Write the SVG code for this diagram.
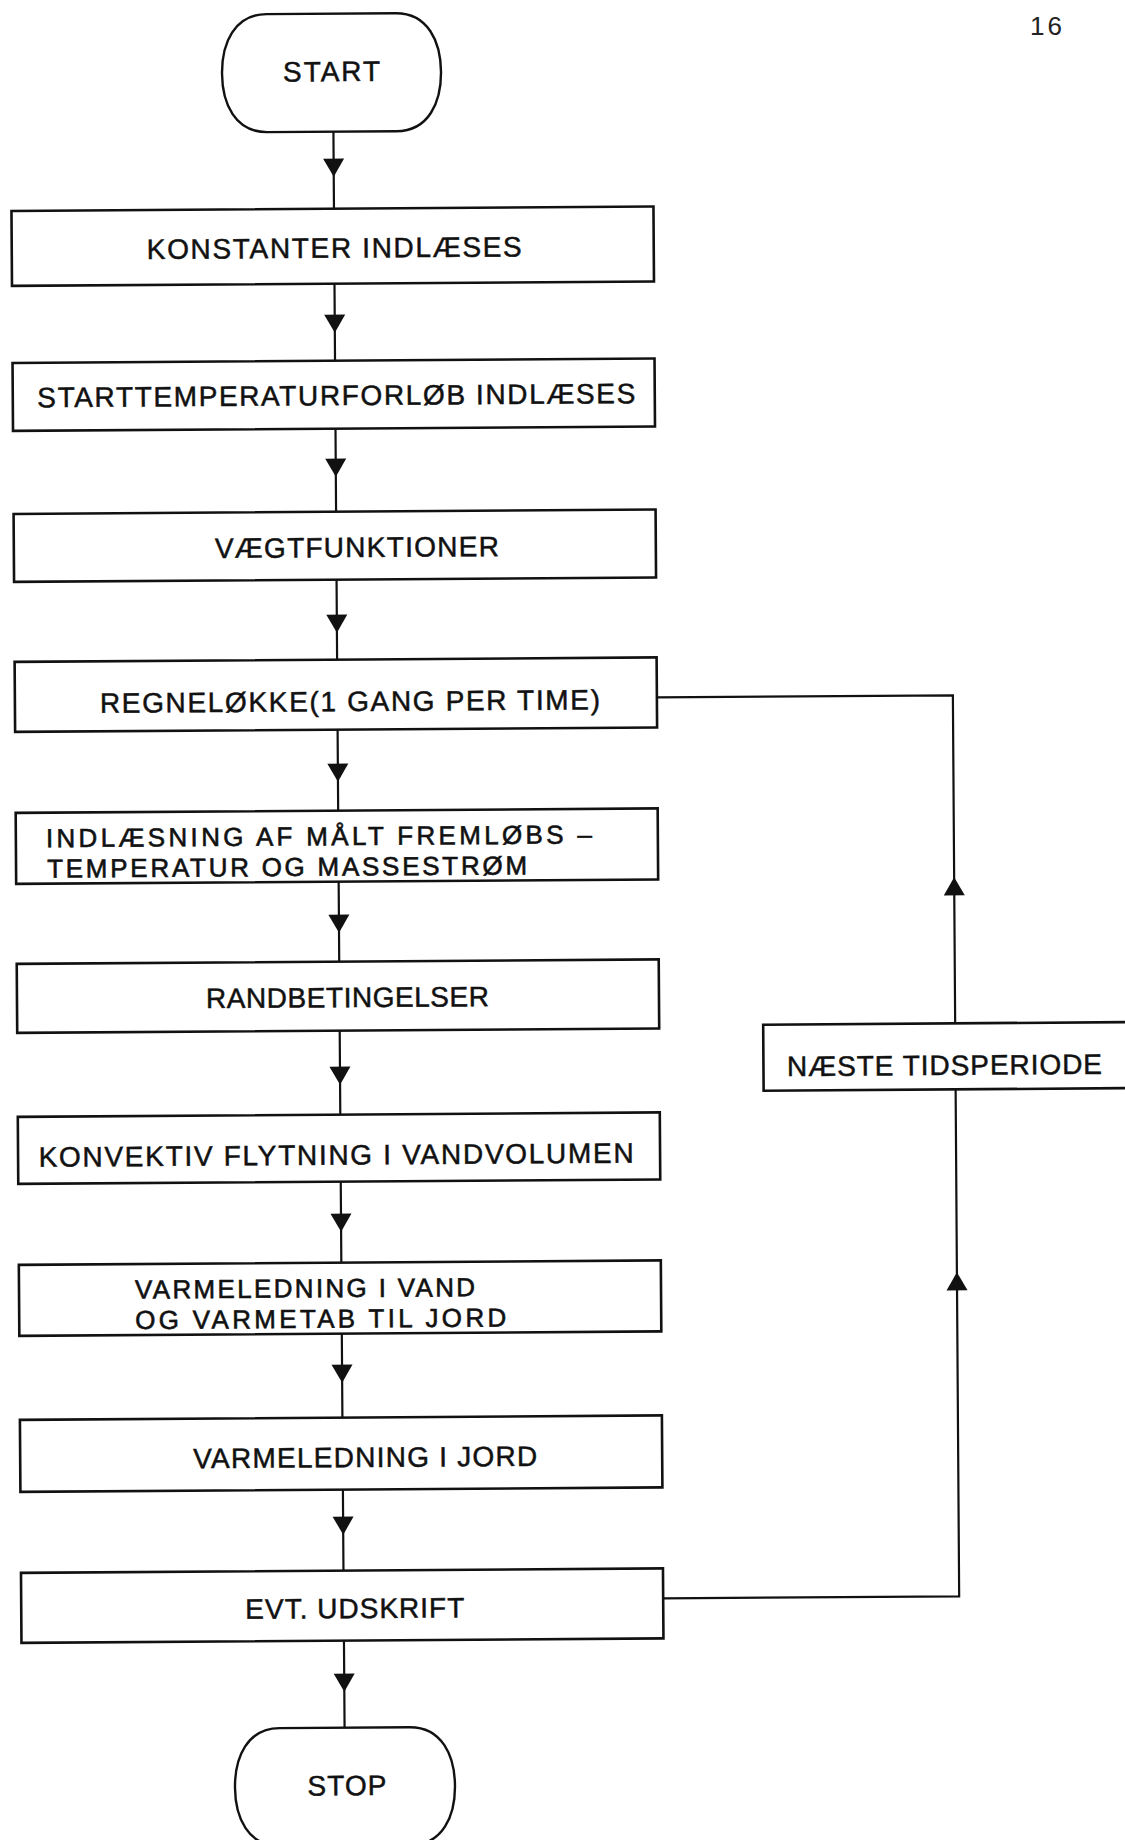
<svg xmlns="http://www.w3.org/2000/svg" width="1125" height="1840" viewBox="0 0 1125 1840">
<style>
.box{fill:#fff;stroke:#111;stroke-width:2.6}
.term{fill:#fff;stroke:#111;stroke-width:2.4}
.conn{fill:none;stroke:#111;stroke-width:2.2}
.lbl{font-family:"Liberation Sans",Arial,sans-serif;font-size:28px;fill:#111;stroke:#111;stroke-width:0.5}
.two{font-size:26px;stroke-width:0.6}
.pg{font-family:"Liberation Sans",Arial,sans-serif;font-size:26px;fill:#222;letter-spacing:3px}
.ah{fill:#111}
</style>
<defs>
<polygon id="down" class="ah" points="-10.5,-18 10.5,-18 0,0"/>
<polygon id="up" class="ah" points="-10.5,18 10.5,18 0,0"/>
</defs>
<rect width="1125" height="1840" fill="#fff"/>
<text class="pg" x="1030" y="35">16</text>
<g transform="rotate(-0.4)">
<g id="connectors">
<path class="conn" d="M332.5,134 V211 M332.5,286 V363 M332.5,431 V514 M332.5,582 V662 M332.5,732 V813 M332.5,884 V964 M332.5,1033 V1117 M332.5,1184 V1265 M332.5,1336 V1420 M332.5,1492 V1573 M332.5,1643 V1730"/>
<path class="conn" d="M652,1603 H948 V1096 M948,1030 V702 H652"/>
<use href="#down" x="332.5" y="179"/>
<use href="#down" x="332.5" y="335"/>
<use href="#down" x="332.5" y="479"/>
<use href="#down" x="332.5" y="635"/>
<use href="#down" x="332.5" y="784"/>
<use href="#down" x="332.5" y="935"/>
<use href="#down" x="332.5" y="1087"/>
<use href="#down" x="332.5" y="1234"/>
<use href="#down" x="332.5" y="1385"/>
<use href="#down" x="332.5" y="1537"/>
<use href="#down" x="332.5" y="1694"/>
<use href="#up" x="948" y="1279"/>
<use href="#up" x="948" y="884"/>
</g>
<g id="start">
<path class="term" d="M266.5,16 H395.5 C428,16 440.5,45 440.5,75 C440.5,105 428,134 395.5,134 H266.5 C234,134 221.5,105 221.5,75 C221.5,45 234,16 266.5,16 Z"/>
<text class="lbl" x="282.5" y="83.5" textLength="97" lengthAdjust="spacing">START</text>
</g>
<g id="konstanter">
<rect class="box" x="10" y="211" width="642" height="75"/>
<text class="lbl" x="145" y="260" textLength="375" lengthAdjust="spacing">KONSTANTER INDLÆSES</text>
</g>
<g id="starttemperatur">
<rect class="box" x="10" y="363" width="642" height="68"/>
<text class="lbl" x="34.5" y="407.5" textLength="598" lengthAdjust="spacing">STARTTEMPERATURFORLØB INDLÆSES</text>
</g>
<g id="vaegtfunktioner">
<rect class="box" x="10" y="514" width="642" height="68"/>
<text class="lbl" x="211" y="559.5" textLength="284" lengthAdjust="spacing">VÆGTFUNKTIONER</text>
</g>
<g id="regneloekke">
<rect class="box" x="10" y="662" width="642" height="70"/>
<text class="lbl" x="95" y="713.5" textLength="500" lengthAdjust="spacing">REGNELØKKE(1 GANG PER TIME)</text>
</g>
<g id="indlaesning">
<rect class="box" x="10" y="813" width="642" height="71"/>
<text class="lbl two" x="40" y="847.5" textLength="546" lengthAdjust="spacing">INDLÆSNING AF MÅLT FREMLØBS –</text>
<text class="lbl two" x="41" y="878" textLength="480" lengthAdjust="spacing">TEMPERATUR OG MASSESTRØM</text>
</g>
<g id="randbetingelser">
<rect class="box" x="10" y="964" width="642" height="69"/>
<text class="lbl" x="199" y="1009.5" textLength="283" lengthAdjust="spacing">RANDBETINGELSER</text>
</g>
<g id="konvektiv">
<rect class="box" x="10" y="1117" width="642" height="67"/>
<text class="lbl" x="30.5" y="1167" textLength="595" lengthAdjust="spacing">KONVEKTIV FLYTNING I VANDVOLUMEN</text>
</g>
<g id="varmeledning-vand">
<rect class="box" x="10" y="1265" width="642" height="71"/>
<text class="lbl two" x="126" y="1299.5" textLength="340" lengthAdjust="spacing">VARMELEDNING I VAND</text>
<text class="lbl two" x="126" y="1330" textLength="371" lengthAdjust="spacing">OG VARMETAB TIL JORD</text>
</g>
<g id="varmeledning-jord">
<rect class="box" x="10" y="1420" width="642" height="72"/>
<text class="lbl" x="183" y="1469.5" textLength="344" lengthAdjust="spacing">VARMELEDNING I JORD</text>
</g>
<g id="udskrift">
<rect class="box" x="10" y="1573" width="642" height="70"/>
<text class="lbl" x="234" y="1620.5" textLength="219" lengthAdjust="spacing">EVT. UDSKRIFT</text>
</g>
<g id="naeste-tidsperiode">
<rect class="box" x="756" y="1030" width="390" height="66"/>
<text class="lbl" x="779.5" y="1081.5" textLength="315" lengthAdjust="spacing">NÆSTE TIDSPERIODE</text>
</g>
<g id="stop">
<path class="term" d="M267.5,1730 H397.5 C430,1730 442.5,1759 442.5,1789 C442.5,1819 430,1848 397.5,1848 H267.5 C235,1848 222.5,1819 222.5,1789 C222.5,1759 235,1730 267.5,1730 Z"/>
<text class="lbl" x="295" y="1797.5" textLength="79" lengthAdjust="spacing">STOP</text>
</g>
</g>
</svg>
